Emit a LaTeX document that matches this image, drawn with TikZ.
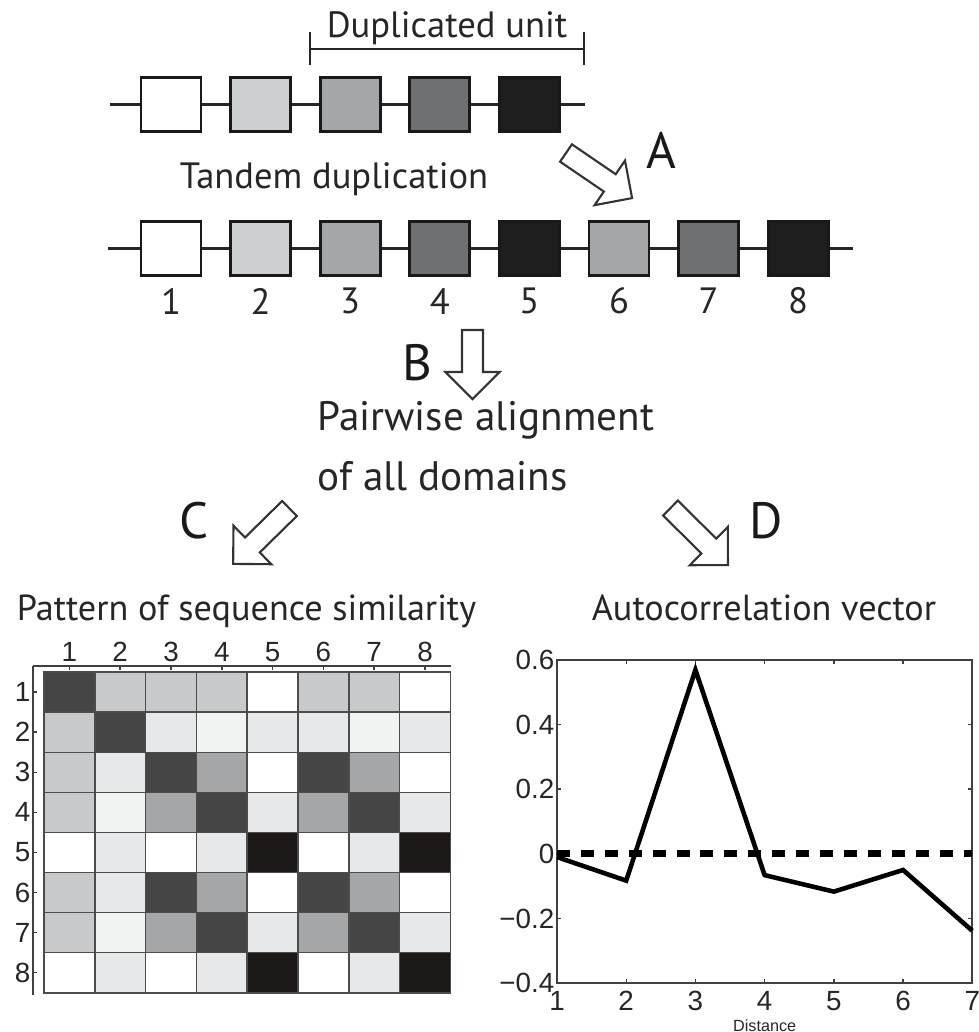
\documentclass[tikz,border=0pt]{standalone}
\usepackage{fontspec}
\setmainfont{PT Sans}
\newfontfamily\plotfont{Liberation Sans}
\usetikzlibrary{calc}

% grey levels of the domains
\definecolor{g1}{HTML}{FFFFFF}
\definecolor{g2}{HTML}{CDD0D0}
\definecolor{g3}{HTML}{A4A6A8}
\definecolor{g4}{HTML}{6F7072}
\definecolor{g5}{HTML}{1E1E1E}
% grey levels of the similarity matrix
\definecolor{cD}{HTML}{454545}
\definecolor{cL}{HTML}{C7C9CB}
\definecolor{cM}{HTML}{A4A6A7}
\definecolor{cV}{HTML}{E7E8E9}
\definecolor{cU}{HTML}{F1F2F2}
\definecolor{cW}{HTML}{FFFFFF}
\definecolor{cK}{HTML}{1B1817}

\tikzset{
  genebox/.style={draw=black!90, line width=0.8pt, minimum width=0.6cm, minimum height=0.54cm, inner sep=0pt},
  backbone/.style={line width=0.8pt, draw=black!85},
  bigtext/.style={font=\fontsize{10.4}{12}\selectfont, inner sep=0pt, text=black!85},
  pairtext/.style={font=\fontsize{11.7}{14}\selectfont, inner sep=0pt, text=black!85},
  titletext/.style={font=\fontsize{10.3}{12}\selectfont, inner sep=0pt, text=black!85},
  steplabel/.style={font=\fontsize{14.5}{17}\selectfont, inner sep=0pt, text=black!90},
  fatarrow/.style={draw=black!80, line width=0.6pt, fill=white, line join=miter},
  cell/.style={draw=black!70, line width=0.4pt},
  axisnum/.style={font=\plotfont\fontsize{7.9}{9}\selectfont, inner sep=0pt, text=black!85},
}

% hollow block arrow: tail point, angle, length (in px units)
\newcommand{\blockarrow}[3]{%
  \draw[fatarrow, shift={(#1)}, rotate=#2] (0,-10.5) -- (#3-27,-10.5) -- (#3-27,-27)
    -- (#3,0) -- (#3-27,27) -- (#3-27,10.5) -- (0,10.5) -- cycle;}

\begin{document}
\begin{tikzpicture}[x=0.01cm, y=-0.01cm]
\useasboundingbox (0,0) rectangle (979,1032);

% duplicated unit bracket
\coordinate (ul) at (310,49);
\coordinate (ur) at (584,49);
\draw[line width=0.7pt, black!85] (ul) -- (ur);
\draw[line width=0.7pt, black!85] ($(ul)+(0,-17)$) -- ($(ul)+(0,16)$);
\draw[line width=0.7pt, black!85] ($(ur)+(0,-17)$) -- ($(ur)+(0,16)$);
\node[bigtext, anchor=base] (dupl) at (447,37) {Duplicated unit};

% original gene
\node[genebox, fill=g1] (a1) at (171,104.5) {};
\node[genebox, fill=g2] (a2) at (260.6,104.5) {};
\node[genebox, fill=g3] (a3) at (350.2,104.5) {};
\node[genebox, fill=g4] (a4) at (439.8,104.5) {};
\node[genebox, fill=g5] (a5) at (529.4,104.5) {};
\coordinate (a0) at (110,104.5);
\coordinate (a6) at (585,104.5);
\draw[backbone] (a0) -- (a1) -- (a2) -- (a3) -- (a4) -- (a5) -- (a6);

\node[bigtext, anchor=base] (tandem) at (334,188) {Tandem duplication};
\node[steplabel, anchor=base] (lblA) at (661,168) {A};
\coordinate (tailA) at (566,153);
\blockarrow{tailA}{-34.3}{80}

% gene after duplication
\node[genebox, fill=g1] (b1) at (171,248.5) {};
\node[genebox, fill=g2] (b2) at (260.6,248.5) {};
\node[genebox, fill=g3] (b3) at (350.2,248.5) {};
\node[genebox, fill=g4] (b4) at (439.8,248.5) {};
\node[genebox, fill=g5] (b5) at (529.4,248.5) {};
\node[genebox, fill=g3] (b6) at (619,248.5) {};
\node[genebox, fill=g4] (b7) at (708.6,248.5) {};
\node[genebox, fill=g5] (b8) at (798.2,248.5) {};
\coordinate (b0) at (108,248.5);
\coordinate (b9) at (853,248.5);
\draw[backbone] (b0) -- (b1) -- (b2) -- (b3) -- (b4) -- (b5) -- (b6) -- (b7) -- (b8) -- (b9);

\node[bigtext] (n1) at (171,301) {1};
\node[bigtext] (n2) at (260.6,301) {2};
\node[bigtext] (n3) at (350.2,301) {3};
\node[bigtext] (n4) at (439.8,301) {4};
\node[bigtext] (n5) at (529.4,301) {5};
\node[bigtext] (n6) at (619,301) {6};
\node[bigtext] (n7) at (708.6,301) {7};
\node[bigtext] (n8) at (798.2,301) {8};

% alignment step
\node[steplabel, anchor=base] (lblB) at (417,380) {B};
\coordinate (tailB) at (472.5,330);
\blockarrow{tailB}{-90}{69}
\node[pairtext, anchor=base west] (pair1) at (317,430) {Pairwise alignment};
\node[pairtext, anchor=base west] (pair2) at (317,490) {of all domains};

\node[steplabel, anchor=base] (lblC) at (194,538) {C};
\coordinate (tailC) at (289.5,508.5);
\blockarrow{tailC}{-135.5}{79}
\node[steplabel, anchor=base] (lblD) at (766,538) {D};
\coordinate (tailD) at (670.5,508);
\blockarrow{tailD}{-44.8}{81}

\node[titletext, anchor=base] (simtitle) at (246.5,620) {Pattern of sequence similarity};
\node[titletext, anchor=base] (actitle) at (764,620) {Autocorrelation vector};

% similarity matrix
\foreach \row [count=\i] in {{cD,cL,cL,cL,cW,cL,cL,cW},{cL,cD,cV,cU,cV,cV,cU,cV},
  {cL,cV,cD,cM,cW,cD,cM,cW},{cL,cU,cM,cD,cV,cM,cD,cV},{cW,cV,cW,cV,cK,cW,cV,cK},
  {cL,cV,cD,cM,cW,cD,cM,cW},{cL,cU,cM,cD,cV,cM,cD,cV},{cW,cV,cW,cV,cK,cW,cV,cK}}
  \foreach \c [count=\j] in \row
    \draw[cell, fill=\c] ({44+50.8*(\j-1)},{672+40.1*(\i-1)}) rectangle +(50.8,40.1);
\draw[line width=0.5pt, black!75] (33,666) -- (451,666);
\draw[line width=0.5pt, black!75] (33,666) -- (33,995);
\foreach \k in {1,...,8} {
  \draw[line width=0.4pt, black!75] ({69.4+50.8*(\k-1)},666) -- ++(0,4);
  \node[axisnum] (col\k) at ({69.4+50.8*(\k-1)},652) {\k};
  \draw[line width=0.4pt, black!75] (33,{692.05+40.1*(\k-1)}) -- ++(4,0);
  \node[axisnum, anchor=east] (row\k) at (31,{692.05+40.1*(\k-1)}) {\k};
}

% autocorrelation plot
\begin{scope}[shift={(557,853.8)}, x=0.6917cm, y=3.23cm]
  \draw[line width=0.5pt, black!75] (0,-0.4) rectangle (6,0.6);
  \foreach \d in {1,...,5} {
    \draw[line width=0.4pt, black!75] (\d,0.6) -- ++(0,-0.013);
    \draw[line width=0.4pt, black!75] (\d,-0.4) -- ++(0,0.013);
  }
  \foreach \v in {-0.2,0,0.2,0.4} {
    \draw[line width=0.4pt, black!75] (0,\v) -- ++(0.06,0);
    \draw[line width=0.4pt, black!75] (6,\v) -- ++(-0.06,0);
  }
  \node[axisnum, anchor=east] (y1) at (-0.03,0.6) {0.6};
  \node[axisnum, anchor=east] (y2) at (-0.03,0.4) {0.4};
  \node[axisnum, anchor=east] (y3) at (-0.03,0.2) {0.2};
  \node[axisnum, anchor=east] (y4) at (-0.03,0) {0};
  \node[axisnum, anchor=east] (y5) at (-0.03,-0.2) {−0.2};
  \node[axisnum, anchor=east] (y6) at (-0.03,-0.4) {−0.4};
  \foreach \d in {1,...,7}
    \node[axisnum] (x\d) at (\d-1,-0.456) {\d};
  \node[font=\plotfont\fontsize{4.6}{5}\selectfont, inner sep=0pt, text=black!85] (xlab) at (3,-0.533) {Distance};
  \draw[line width=2pt, dash pattern=on 3.7pt off 3.1pt] (0,0) -- (6,0);
  \draw[line width=1.3pt, line join=miter] (0,-0.01) -- (1,-0.083) -- (2,0.569) -- (3,-0.066)
    -- (4,-0.117) -- (5,-0.05) -- (6,-0.238);
\end{scope}
\end{tikzpicture}
\end{document}
